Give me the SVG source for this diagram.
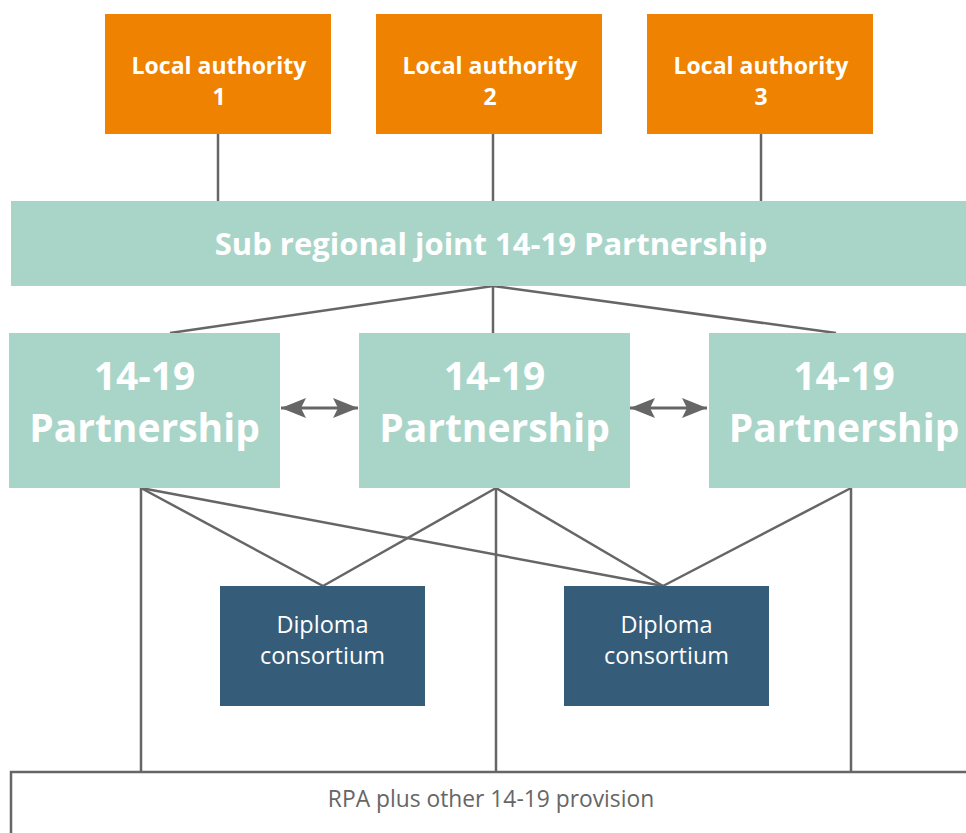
<svg xmlns="http://www.w3.org/2000/svg" width="966" height="833" viewBox="0 0 966 833">
<style>
.la{fill:#EF8200}
.tl{fill:#A8D5C8}
.dc{fill:#355C78}
.wb{fill:#FFFFFF;font-family:"Open Sans","Liberation Sans",sans-serif;font-weight:bold;text-anchor:middle}
.wr{fill:#FFFFFF;font-family:"Open Sans","Liberation Sans",sans-serif;text-anchor:middle;font-size:23.5px}
.ln{stroke:#666666;stroke-width:2.5;fill:none}
.ar{stroke:#666666;stroke-width:3;fill:none}
</style>
<defs>
<marker id="ah" viewBox="0 0 25 20" refX="25" refY="10" markerWidth="25" markerHeight="20" markerUnits="userSpaceOnUse" orient="auto-start-reverse">
<path d="M0,0 L25,10 L0,20 L5,10 Z" fill="#666666"/>
</marker>
</defs>
<rect width="966" height="833" fill="#FFFFFF"/>
<g id="connectors">
<line class="ln" x1="218" y1="134" x2="218" y2="201"/>
<line class="ln" x1="493" y1="134" x2="493" y2="201"/>
<line class="ln" x1="761" y1="134" x2="761" y2="201"/>
<line class="ln" x1="493" y1="286" x2="170" y2="333"/>
<line class="ln" x1="493" y1="286" x2="493" y2="333"/>
<line class="ln" x1="493" y1="286" x2="836" y2="333"/>
<line class="ar" x1="281" y1="408" x2="358" y2="408" marker-start="url(#ah)" marker-end="url(#ah)"/>
<line class="ar" x1="630" y1="408" x2="707" y2="408" marker-start="url(#ah)" marker-end="url(#ah)"/>
<line class="ln" x1="141" y1="488" x2="141" y2="772"/>
<line class="ln" x1="141" y1="488" x2="323" y2="586"/>
<line class="ln" x1="141" y1="488" x2="663" y2="586"/>
<line class="ln" x1="496" y1="488" x2="496" y2="772"/>
<line class="ln" x1="496" y1="488" x2="323" y2="586"/>
<line class="ln" x1="496" y1="488" x2="663" y2="586"/>
<line class="ln" x1="851" y1="488" x2="851" y2="772"/>
<line class="ln" x1="851" y1="488" x2="663" y2="586"/>
</g>
<g id="la1">
<rect class="la" x="105" y="14" width="226" height="120"/>
<text class="wb" font-size="23" x="219" y="74">Local authority</text>
<text class="wb" font-size="23" x="219" y="105">1</text>
</g>
<g id="la2">
<rect class="la" x="376" y="14" width="226" height="120"/>
<text class="wb" font-size="23" x="490" y="74">Local authority</text>
<text class="wb" font-size="23" x="490" y="105">2</text>
</g>
<g id="la3">
<rect class="la" x="647" y="14" width="226" height="120"/>
<text class="wb" font-size="23" x="761" y="74">Local authority</text>
<text class="wb" font-size="23" x="761" y="105">3</text>
</g>
<g id="subregional">
<rect class="tl" x="11" y="201" width="960" height="85"/>
<text class="wb" font-size="31" x="491" y="255">Sub regional joint 14-19 Partnership</text>
</g>
<g id="p1">
<rect class="tl" x="9" y="333" width="271" height="155"/>
<text class="wb" font-size="39" x="144.5" y="390">14-19</text>
<text class="wb" font-size="39" x="144.5" y="442">Partnership</text>
</g>
<g id="p2">
<rect class="tl" x="359" y="333" width="271" height="155"/>
<text class="wb" font-size="39" x="494.5" y="390">14-19</text>
<text class="wb" font-size="39" x="494.5" y="442">Partnership</text>
</g>
<g id="p3">
<rect class="tl" x="709" y="333" width="271" height="155"/>
<text class="wb" font-size="39" x="844" y="390">14-19</text>
<text class="wb" font-size="39" x="844" y="442">Partnership</text>
</g>
<g id="d1">
<rect class="dc" x="220" y="586" width="205" height="120"/>
<text class="wr" x="322.5" y="633">Diploma</text>
<text class="wr" x="322.5" y="664">consortium</text>
</g>
<g id="d2">
<rect class="dc" x="564" y="586" width="205" height="120"/>
<text class="wr" x="666.5" y="633">Diploma</text>
<text class="wr" x="666.5" y="664">consortium</text>
</g>
<g id="provision">
<rect x="11" y="772" width="970" height="80" fill="none" stroke="#666666" stroke-width="2.5"/>
<text x="491" y="807" font-family="'Open Sans','Liberation Sans',sans-serif" font-size="22.8" fill="#666666" text-anchor="middle">RPA plus other 14-19 provision</text>
</g>
</svg>
